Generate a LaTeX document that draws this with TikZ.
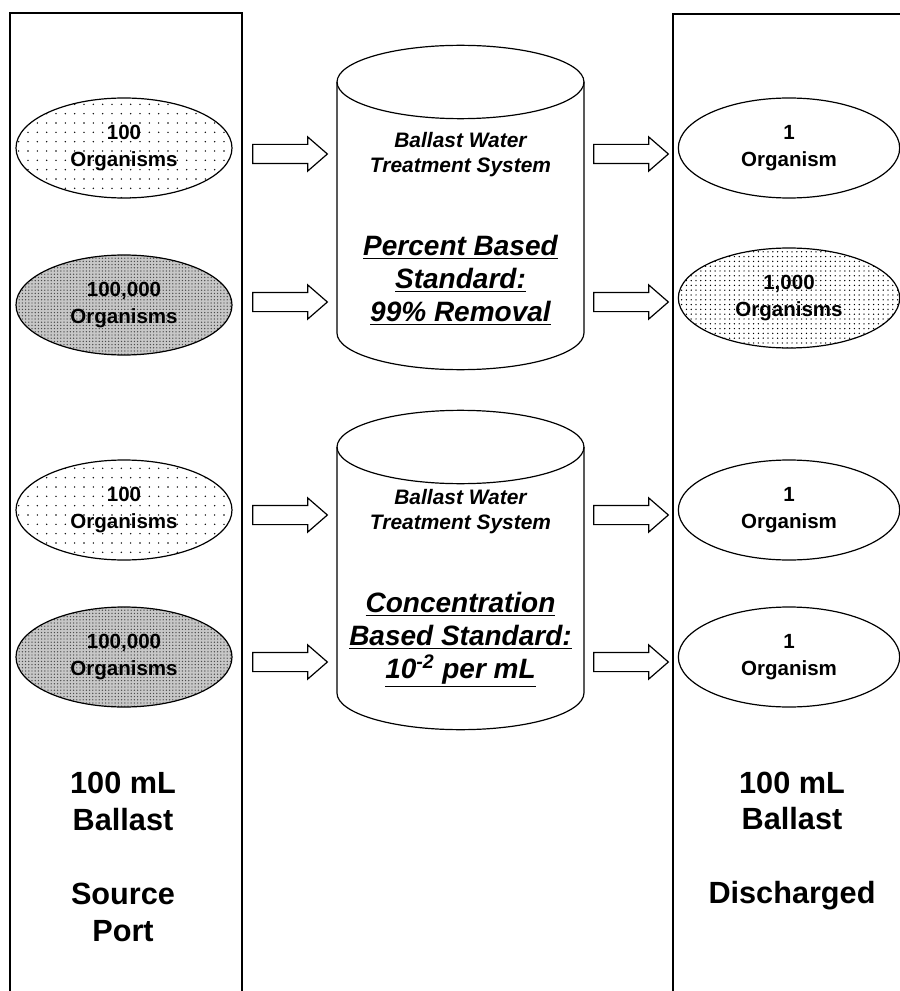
\documentclass[tikz,border=0pt]{standalone}
\usepackage{fontspec}
\setmainfont{Liberation Sans}
\usetikzlibrary{shapes.geometric,shapes.arrows,patterns.meta}

\begin{document}
\begin{tikzpicture}[x=0.75pt, y=-0.75pt, line width=0.9pt,
    org/.style={ellipse, draw, minimum width=162pt, minimum height=75pt, inner sep=0pt, align=center,
      font=\fontsize{15.4}{20.3}\selectfont\bfseries},
    sparse/.style={pattern={Dots[distance=7pt, radius=0.6pt]}},
    fine/.style={pattern={Dots[distance=3.6pt, radius=0.55pt]}},
    dense/.style={preaction={fill=black!22}, pattern={Dots[distance=2.4pt, radius=0.55pt]}, pattern color=black!70},
    lid/.style={x radius=92.6pt, y radius=27.5pt},
    flow/.style={single arrow, draw, minimum height=56pt, minimum width=24.75pt, inner xsep=0pt, inner ysep=6.75pt,
      single arrow head extend=5.6pt, single arrow tip angle=82},
    caption/.style={align=center, font=\fontsize{15.7}{18.75}\selectfont\bfseries\itshape},
    rule/.style={align=center, font=\fontsize{21}{24.75}\selectfont\bfseries\itshape},
    port/.style={align=center, font=\fontsize{23}{27.5}\selectfont\bfseries}]
  \useasboundingbox (0, 0) rectangle (899, 991);
  \draw (10, 1010) |- (242, 13) -- (242, 1010);
  \draw (673, 1010) |- (930, 14);

  \node[org, sparse] (src1) at (124, 148) {100\\Organisms};
  \node[org, dense] (src2) at (124, 305) {100,000\\Organisms};
  \node[org, sparse] (src3) at (124, 510) {100\\Organisms};
  \node[org, dense] (src4) at (124, 657) {100,000\\Organisms};

  \node[org, minimum width=166pt] (dis1) at (789, 148) {1\\Organism};
  \node[org, minimum width=166pt, fine] (dis2) at (789, 298) {1,000\\Organisms};
  \node[org, minimum width=166pt] (dis3) at (789, 510) {1\\Organism};
  \node[org, minimum width=166pt] (dis4) at (789, 657) {1\\Organism};

  \draw (460.5, 82) ellipse [lid];
  \draw (337, 82) -- (337, 333) arc [lid, start angle=180, end angle=360] -- (584, 82);
  \draw (460.5, 447) ellipse [lid];
  \draw (337, 447) -- (337, 693) arc [lid, start angle=180, end angle=360] -- (584, 447);
  \node[caption] (cap1) at (460.5, 154.5) {Ballast Water\\Treatment System};
  \node[caption] (cap2) at (460.5, 511.5) {Ballast Water\\Treatment System};
  \node[rule] (std1) at (460.5, 280) {\underline{Percent Based}\\\underline{Standard:}\\\underline{99\% Removal}};
  \node[rule] (std2) at (460.5, 640) {\underline{Concentration}\\\underline{Based Standard:}\\\underline{10\textsuperscript{-2} per mL}};

  \node[flow] (in1) at (284.5, 154) {};
  \node[flow] (in2) at (284.5, 302) {};
  \node[flow] (in3) at (284.5, 515) {};
  \node[flow] (in4) at (284.5, 662) {};
  \node[flow] (out1) at (625.5, 154) {};
  \node[flow] (out2) at (625.5, 302) {};
  \node[flow] (out3) at (625.5, 515) {};
  \node[flow] (out4) at (625.5, 662) {};

  \node[port] (source) at (123, 857) {100 mL\\Ballast\\[28pt]Source\\Port};
  \node[port] (discharge) at (792, 841) {100 mL\\Ballast\\[28pt]Discharged};
\end{tikzpicture}
\end{document}
